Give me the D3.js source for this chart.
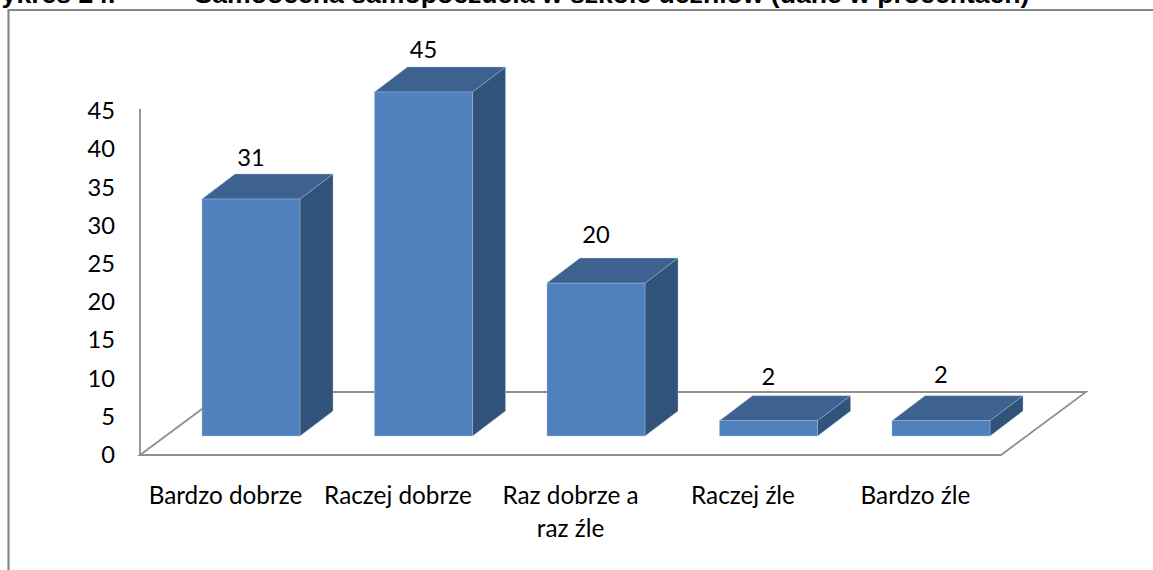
<!DOCTYPE html>
<html><head><meta charset="utf-8">
<script src="https://cdn.jsdelivr.net/npm/d3@7"></script>
<style>html,body{margin:0;padding:0;background:#fff;overflow:hidden}svg{display:block}</style>
</head><body><div id="c"></div>
<script>
const categories = ["Bardzo dobrze","Raczej dobrze","Raz dobrze a raz źle","Raczej źle","Bardzo źle"];
const values = [31,45,20,2,2];
const yTicks = [0,5,10,15,20,25,30,35,40,45];
const titleLeft = "Wykres 24.";
const titleRight = "Samoocena samopoczucia w szkole uczniów (dane w procentach)";

const W=1153,H=570, font="Lato, 'Open Sans', sans-serif", fs=23.7;
const svg=d3.select("#c").append("svg").attr("width",W).attr("height",H);
const x=d3.scaleBand().domain(categories).range([127.5,1064.5]).padding(0.432);
const y=d3.scaleLinear().domain([0,45]).range([455,111]);
const floorFront=455, floorBack=392, axisX=140;
const frontLift=19, depthX=33, depthY=25;
const labelNudge=[0,-1,-7,-3,-5];

// title (cropped at top of the image)
const title=svg.append("g").attr("font-family","'Liberation Sans', Arial, sans-serif").attr("font-weight","bold").attr("font-size",26.6).attr("fill","#000");
title.append("text").attr("x",-23).attr("y",3).text(titleLeft);
title.append("text").attr("x",194.5).attr("y",3).text(titleRight);

// frame
svg.append("path").attr("d",`M8.5,${H}V10H${W}`).attr("fill","none").attr("stroke","#868686").attr("stroke-width",2.2);

// floor
const fx1=1001, fx2=1086, bx=225;
svg.append("path").attr("d",`M${axisX},${floorFront}L${bx},${floorBack}H${fx2}L${fx1},${floorFront}Z`)
  .attr("fill","none").attr("stroke","#8f8f8f").attr("stroke-width",1.8);

// axis
const axis=d3.axisLeft(y).tickValues(yTicks).tickSize(0).tickPadding(25);
const ag=svg.append("g").attr("transform",`translate(${axisX},0)`).call(axis);
ag.select(".domain").attr("stroke","#8f8f8f").attr("stroke-width",1.8).attr("d",`M0,455V109`);
ag.selectAll("text").attr("font-family",font).attr("font-size",fs).attr("fill","#000");

// bars
const bars=svg.append("g").selectAll("g").data(categories).join("g");
const base=y(0)-frontLift;
const barTop=(c,i)=>y(values[i])-frontLift;
const edge="#a9c0dc";
bars.append("path").attr("fill","#325379").attr("stroke",edge).attr("stroke-width",.4)
  .attr("d",(c,i)=>{const r=x(c)+x.bandwidth(),t=barTop(c,i);return `M${r},${t}L${r+depthX},${t-depthY}V${base-depthY}L${r},${base}Z`;});
bars.append("path").attr("fill","#3d628f").attr("stroke",edge).attr("stroke-width",.4)
  .attr("d",(c,i)=>{const l=x(c),r=l+x.bandwidth(),t=barTop(c,i);return `M${l},${t}L${l+depthX},${t-depthY}H${r+depthX}L${r},${t}Z`;});
bars.append("rect").attr("fill","#4f81bd").attr("stroke",edge).attr("stroke-width",.4)
  .attr("x",c=>x(c)).attr("width",x.bandwidth())
  .attr("y",(c,i)=>barTop(c,i)).attr("height",(c,i)=>base-barTop(c,i));

// value labels
svg.append("g").selectAll("text").data(values).join("text")
  .attr("x",(v,i)=>x(categories[i])+x.bandwidth()/2)
  .attr("y",(v,i)=>y(v)-frontLift-depthY-8+labelNudge[i])
  .attr("text-anchor","middle").attr("font-family",font).attr("font-size",fs).attr("fill","#000").text(v=>v);

// category labels
const wrap={"Raz dobrze a raz źle":["Raz dobrze a","raz źle"]};
const cat=svg.append("g").selectAll("text").data(categories).join("text")
  .attr("text-anchor","middle").attr("font-family",font).attr("font-size",24.3).attr("fill","#000");
cat.each(function(c){
  const cx=x(c)+x.bandwidth()/2-25.5;
  (wrap[c]||[c]).forEach((t,k)=>d3.select(this).append("tspan").attr("x",cx).attr("y",504+k*33).text(t));
});
</script></body></html>
